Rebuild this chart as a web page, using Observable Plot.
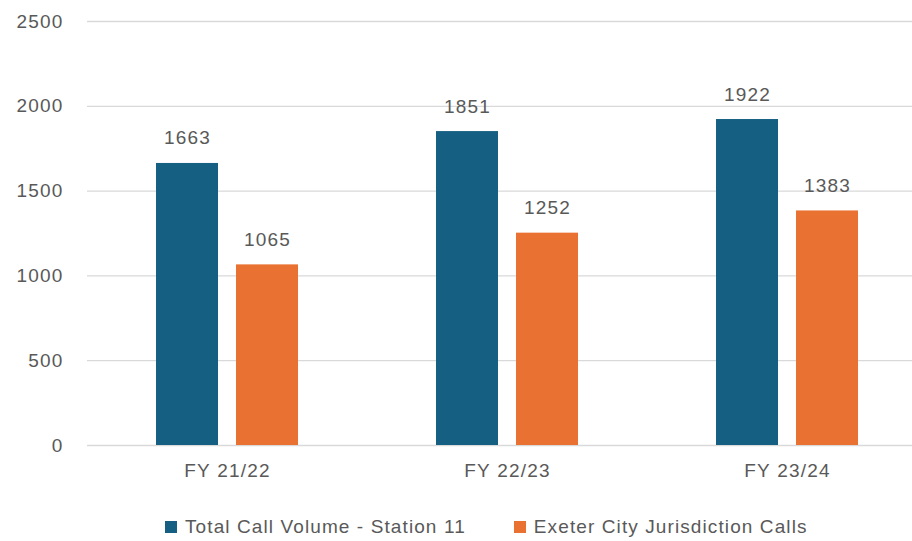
<!DOCTYPE html>
<html>
<head>
<meta charset="utf-8">
<script src="https://cdn.jsdelivr.net/npm/d3@7"></script>
<script src="https://cdn.jsdelivr.net/npm/@observablehq/plot@0.6"></script>
<style>
  html, body { margin: 0; padding: 0; background: #fff; }
  body { width: 912px; height: 541px; overflow: hidden; font-family: "Liberation Sans", Arial, sans-serif; }
  #chart svg text { letter-spacing: 1.2px; }
  #legend { display: flex; align-items: center; margin-left: 165px; margin-top: 16px; font-size: 19px; letter-spacing: 1.1px; color: #595959; }
  .item { display: flex; align-items: center; margin-right: 48px; }
  .sw { width: 12px; height: 12px; margin-right: 8px; }
</style>
</head>
<body>
<div id="chart"></div>
<div id="legend"></div>
<script>
const years = ["FY 21/22", "FY 22/23", "FY 23/24"];
const seriesNames = ["Total Call Volume - Station 11", "Exeter City Jurisdiction Calls"];
const totalCalls = [1663, 1851, 1922];
const exeterCalls = [1065, 1252, 1383];
const colors = ["#156082", "#E97132"];
const yTicks = [0, 500, 1000, 1500, 2000, 2500];

const data = [];
years.forEach((yr, i) => {
  data.push({year: yr, series: seriesNames[0], value: totalCalls[i]});
  data.push({year: yr, series: seriesNames[1], value: exeterCalls[i]});
});

const chart = Plot.plot({
  width: 912,
  height: 500,
  marginLeft: 87,
  marginRight: 0,
  marginTop: 21,
  marginBottom: 55,
  style: {fontFamily: "Liberation Sans, Arial, sans-serif", fontSize: "19px", color: "#595959", background: "#fff"},
  fx: {domain: years, range: [87, 927], padding: 0, label: null, axis: "bottom", tickSize: 0, tickPadding: 18},
  x: {domain: seriesNames, paddingInner: 0.23, paddingOuter: 0.854, axis: null},
  y: {domain: [0, 2500], ticks: yTicks, tickFormat: d => String(d), tickSize: 0, tickPadding: 24, label: null},
  color: {domain: seriesNames, range: colors},
  marks: [
    Plot.ruleY(yTicks, {stroke: "#d9d9d9", strokeWidth: 1.3}),
    Plot.barY(data, {fx: "year", x: "series", y: "value", fill: "series"}),
    Plot.text(data, {fx: "year", x: "series", y: "value", text: d => String(d.value), lineAnchor: "bottom", dy: -19, fill: "#595959", fontSize: 19})
  ]
});
document.getElementById("chart").appendChild(chart);

const legend = document.getElementById("legend");
seriesNames.forEach((s, i) => {
  const item = document.createElement("div");
  item.className = "item";
  const sw = document.createElement("span");
  sw.className = "sw";
  sw.style.background = colors[i];
  const t = document.createElement("span");
  t.textContent = s;
  item.appendChild(sw);
  item.appendChild(t);
  legend.appendChild(item);
});
</script>
</body>
</html>
